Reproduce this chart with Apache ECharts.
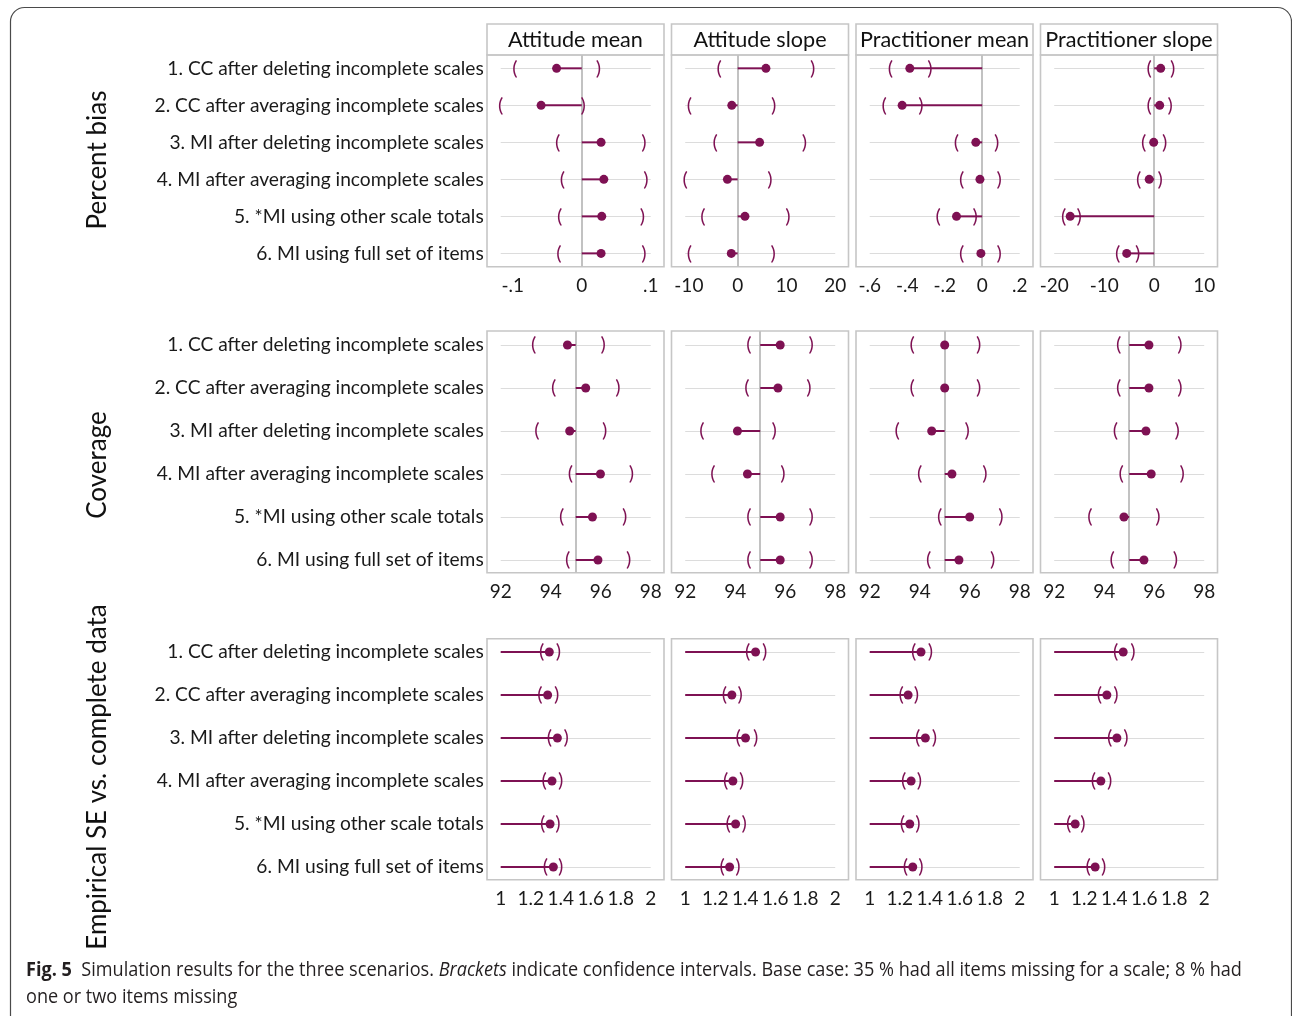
<!DOCTYPE html>
<html><head><meta charset="utf-8">
<script src="https://cdn.jsdelivr.net/npm/echarts@6/dist/echarts.min.js"></script>
<style>html,body{margin:0;padding:0;background:#fff}#c{width:1292px;height:1016px}</style>
</head><body><div id="c"></div>
<script>
// ---------------- DATA ----------------
const categories = [
  "1. CC after deleting incomplete scales",
  "2. CC after averaging incomplete scales",
  "3. MI after deleting incomplete scales",
  "4. MI after averaging incomplete scales",
  "5. *MI using other scale totals",
  "6. MI using full set of items"
];
const measures = ["Attitude mean", "Attitude slope", "Practitioner mean", "Practitioner slope"];
const rowTitles = ["Percent bias", "Coverage", "Empirical SE vs. complete data"];
const refValues = [0, 95, 1];

// Percent bias
const biasAttMeanEst = [-0.0365, -0.059, 0.028, 0.032, 0.029, 0.028];
const biasAttMeanLo  = [-0.097, -0.1176, -0.035, -0.028, -0.032, -0.033];
const biasAttMeanHi  = [0.024, 0.002, 0.090, 0.093, 0.088, 0.090];
const biasAttSlopeEst = [5.8, -1.2, 4.5, -2.1, 1.5, -1.3];
const biasAttSlopeLo  = [-3.8, -9.9, -4.6, -10.75, -7.1, -9.9];
const biasAttSlopeHi  = [15.4, 7.4, 13.7, 6.6, 10.3, 7.3];
const biasPracMeanEst = [-0.386, -0.427, -0.034, -0.012, -0.137, -0.007];
const biasPracMeanLo  = [-0.489, -0.523, -0.137, -0.110, -0.235, -0.110];
const biasPracMeanHi  = [-0.279, -0.327, 0.077, 0.091, -0.037, 0.091];
const biasPracSlopeEst = [1.3, 1.1, -0.1, -1.0, -16.8, -5.5];
const biasPracSlopeLo  = [-1.0, -1.0, -2.1, -3.1, -18.1, -7.3];
const biasPracSlopeHi  = [3.7, 3.2, 2.1, 1.2, -15.0, -3.3];

// Coverage
const covAttMeanEst = [94.67, 95.40, 94.76, 95.99, 95.67, 95.89];
const covAttMeanLo  = [93.32, 94.12, 93.45, 94.79, 94.44, 94.68];
const covAttMeanHi  = [96.10, 96.69, 96.16, 97.23, 96.96, 97.12];
const covAttSlopeEst = [95.80, 95.71, 94.09, 94.49, 95.80, 95.80];
const covAttSlopeLo  = [94.55, 94.47, 92.67, 93.11, 94.55, 94.55];
const covAttSlopeHi  = [97.04, 96.95, 95.56, 95.91, 97.04, 97.04];
const covPracMeanEst = [95.00, 95.00, 94.48, 95.29, 96.00, 95.57];
const covPracMeanLo  = [93.70, 93.70, 93.10, 94.00, 94.80, 94.36];
const covPracMeanHi  = [96.36, 96.36, 95.90, 96.61, 97.25, 96.92];
const covPracSlopeEst = [95.79, 95.79, 95.67, 95.88, 94.79, 95.59];
const covPracSlopeLo  = [94.58, 94.58, 94.45, 94.68, 93.43, 94.32];
const covPracSlopeHi  = [97.03, 97.03, 96.92, 97.12, 96.15, 96.85];

// Empirical SE vs complete data
const seAttMeanEst = [1.324, 1.313, 1.378, 1.342, 1.329, 1.351];
const seAttMeanLo  = [1.273, 1.262, 1.324, 1.289, 1.280, 1.298];
const seAttMeanHi  = [1.384, 1.373, 1.436, 1.400, 1.382, 1.400];
const seAttSlopeEst = [1.469, 1.311, 1.402, 1.318, 1.336, 1.296];
const seAttSlopeLo  = [1.417, 1.262, 1.353, 1.269, 1.287, 1.247];
const seAttSlopeHi  = [1.529, 1.367, 1.469, 1.376, 1.393, 1.351];
const sePracMeanEst = [1.342, 1.256, 1.371, 1.276, 1.267, 1.287];
const sePracMeanLo  = [1.293, 1.209, 1.320, 1.227, 1.218, 1.238];
const sePracMeanHi  = [1.404, 1.311, 1.431, 1.331, 1.322, 1.342];
const sePracSlopeEst = [1.460, 1.351, 1.418, 1.311, 1.140, 1.273];
const sePracSlopeLo  = [1.409, 1.302, 1.369, 1.262, 1.096, 1.227];
const sePracSlopeHi  = [1.524, 1.411, 1.478, 1.369, 1.191, 1.329];

// Tick labels
const ticksAttMeanBias = [-0.1, 0, 0.1];
const ticksAttSlopeBias = [-10, 0, 10, 20];
const ticksPracMeanBias = [-0.6, -0.4, -0.2, 0, 0.2];
const ticksPracSlopeBias = [-20, -10, 0, 10];
const ticksCoverage = [92, 94, 96, 98];
const ticksSE = [1, 1.2, 1.4, 1.6, 1.8, 2];

const captionBold = "Fig. 5";
const captionA = "Simulation results for the three scenarios. ";
const captionItalic = "Brackets";
const captionB = " indicate confidence intervals. Base case: 35 % had all items missing for a scale; 8 % had";
const captionLine2 = "one or two items missing";

// ---------------- LAYOUT / STYLE ----------------
const FONT = 'Lato, "Open Sans", sans-serif';
const CAPFONT = '"Open Sans", sans-serif';
const COLOR = '#7e1153';
const TEXT = '#1a1a1a';
const BOX = '#c6c6c6';
const boxLeft = [487, 671.5, 856, 1040.5];
const boxW = 177, padL = 13.7, innerW = 150;
const headerTop = 24;
const plotTop = [55, 331, 638.7];
const plotBottom = [266.7, 572.7, 879.7];
const yPad = [[0.36, 0.36], [0.326, 0.295], [0.309, 0.295]];
const rowTitleY = [160, 465, 777];

const panelData = [
  [[biasAttMeanEst, biasAttMeanLo, biasAttMeanHi, ticksAttMeanBias],
   [biasAttSlopeEst, biasAttSlopeLo, biasAttSlopeHi, ticksAttSlopeBias],
   [biasPracMeanEst, biasPracMeanLo, biasPracMeanHi, ticksPracMeanBias],
   [biasPracSlopeEst, biasPracSlopeLo, biasPracSlopeHi, ticksPracSlopeBias]],
  [[covAttMeanEst, covAttMeanLo, covAttMeanHi, ticksCoverage],
   [covAttSlopeEst, covAttSlopeLo, covAttSlopeHi, ticksCoverage],
   [covPracMeanEst, covPracMeanLo, covPracMeanHi, ticksCoverage],
   [covPracSlopeEst, covPracSlopeLo, covPracSlopeHi, ticksCoverage]],
  [[seAttMeanEst, seAttMeanLo, seAttMeanHi, ticksSE],
   [seAttSlopeEst, seAttSlopeLo, seAttSlopeHi, ticksSE],
   [sePracMeanEst, sePracMeanLo, sePracMeanHi, ticksSE],
   [sePracSlopeEst, sePracSlopeLo, sePracSlopeHi, ticksSE]]
];

function fmtTick(v) {
  let s = String(+v.toFixed(4));
  return s.replace(/^0\./, '.').replace(/^-0\./, '-.');
}

const grids = [], xAxes = [], yAxes = [], series = [], graphics = [];

// outer frame
graphics.push({type: 'rect', silent: true, z: 0,
  shape: {x: 10.5, y: 7.5, width: 1281, height: 1040, r: 14},
  style: {fill: null, stroke: '#4a4a4a', lineWidth: 1.2}});

for (let r = 0; r < 3; r++) {
  for (let c = 0; c < 4; c++) {
    const idx = r * 4 + c;
    const [est, lo, hi, ticks] = panelData[r][c];
    const ref = refValues[r];
    const xmin = Math.min(Math.min(...lo), ticks[0]);
    const xmax = Math.max(Math.max(...hi), ticks[ticks.length - 1]);
    grids.push({left: boxLeft[c] + padL, width: innerW, top: plotTop[r],
      height: plotBottom[r] - plotTop[r], containLabel: false, outerBoundsMode: 'none'});
    xAxes.push({type: 'value', gridIndex: idx, min: xmin, max: xmax,
      axisLine: {show: false}, axisTick: {show: false}, splitLine: {show: false},
      axisLabel: {show: true, customValues: ticks, formatter: fmtTick, margin: 10,
        fontFamily: FONT, fontSize: 19, color: TEXT}});
    yAxes.push({type: 'value', gridIndex: idx, inverse: true,
      min: -yPad[r][0], max: categories.length - 1 + yPad[r][1],
      axisLine: {show: false}, axisTick: {show: false}, splitLine: {show: false},
      axisLabel: {show: c === 0, customValues: categories.map((_, i) => i),
        formatter: v => categories[Math.round(v)] || '', margin: 17,
        fontFamily: FONT, fontSize: 19.2, color: TEXT, padding: [3, 0, 0, 0]}});

    const mlData = categories.map((_, i) => ({yAxis: i,
      lineStyle: {color: '#dcdcdc', width: 1.2, type: 'solid'}}));
    if (r < 2) mlData.push({xAxis: ref, lineStyle: {color: '#c2c2c2', width: 2, type: 'solid'}});
    series.push({type: 'scatter', xAxisIndex: idx, yAxisIndex: idx, data: [], z: 1, silent: true,
      markLine: {silent: true, symbol: ['none', 'none'], label: {show: false}, animation: false, data: mlData}});

    series.push({type: 'custom', xAxisIndex: idx, yAxisIndex: idx, z: 5, clip: false, silent: true,
      encode: {x: [1, 2, 3], y: 0},
      data: est.map((e, i) => [i, e, lo[i], hi[i], ref]),
      renderItem: function (params, api) {
        const y = api.value(0);
        const p0 = api.coord([api.value(4), y]);
        const p1 = api.coord([api.value(1), y]);
        const pl = api.coord([api.value(2), y]);
        const ph = api.coord([api.value(3), y]);
        const ts = {fill: COLOR, fontFamily: FONT, fontSize: 20, align: 'center', verticalAlign: 'middle'};
        return {type: 'group', children: [
          {type: 'line', shape: {x1: p0[0], y1: p0[1], x2: p1[0], y2: p1[1]}, style: {stroke: COLOR, lineWidth: 2}},
          {type: 'text', x: pl[0], y: pl[1], style: Object.assign({text: '('}, ts)},
          {type: 'text', x: ph[0], y: ph[1], style: Object.assign({text: ')'}, ts)},
          {type: 'circle', shape: {cx: p1[0], cy: p1[1], r: 4.5}, style: {fill: COLOR}}
        ]};
      }});

    // panel box
    graphics.push({type: 'rect', silent: true, z: 2,
      shape: {x: boxLeft[c], y: plotTop[r], width: boxW, height: plotBottom[r] - plotTop[r]},
      style: {fill: null, stroke: BOX, lineWidth: 1.6}});
  }
}

// header boxes with titles
for (let c = 0; c < 4; c++) {
  graphics.push({type: 'rect', silent: true, z: 2,
    shape: {x: boxLeft[c], y: headerTop, width: boxW, height: plotTop[0] - headerTop},
    style: {fill: null, stroke: BOX, lineWidth: 1.6}});
  graphics.push({type: 'text', silent: true, z: 3, x: boxLeft[c] + boxW / 2, y: (headerTop + plotTop[0]) / 2 + 0.5,
    style: {text: measures[c], fill: '#111', fontFamily: FONT, fontSize: 21.6, align: 'center', verticalAlign: 'middle'}});
}

// row titles
for (let r = 0; r < 3; r++) {
  graphics.push({type: 'text', silent: true, z: 3, x: 98, y: rowTitleY[r], rotation: Math.PI / 2,
    style: {text: rowTitles[r], fill: '#111', fontFamily: FONT, fontSize: 26, align: 'center', verticalAlign: 'middle'}});
}

// caption
graphics.push({type: 'text', silent: true, z: 3, x: 26, y: 970, scaleX: 0.905,
  style: {text: '{b|' + captionBold + '}  ' + captionA + '{i|' + captionItalic + '}' + captionB,
    fill: '#231f20', fontFamily: CAPFONT, fontSize: 20, verticalAlign: 'middle',
    rich: {b: {fontWeight: 'bold', fontFamily: CAPFONT, fontSize: 20, fill: '#231f20'},
           i: {fontStyle: 'italic', fontFamily: CAPFONT, fontSize: 20, fill: '#231f20'}}}});
graphics.push({type: 'text', silent: true, z: 3, x: 26, y: 997, scaleX: 0.905,
  style: {text: captionLine2, fill: '#231f20', fontFamily: CAPFONT, fontSize: 20, verticalAlign: 'middle'}});

const chart = echarts.init(document.getElementById('c'), null, {renderer: 'canvas'});
chart.setOption({
  animation: false,
  backgroundColor: '#ffffff',
  grid: grids, xAxis: xAxes, yAxis: yAxes, series: series, graphic: graphics
});
</script></body></html>
